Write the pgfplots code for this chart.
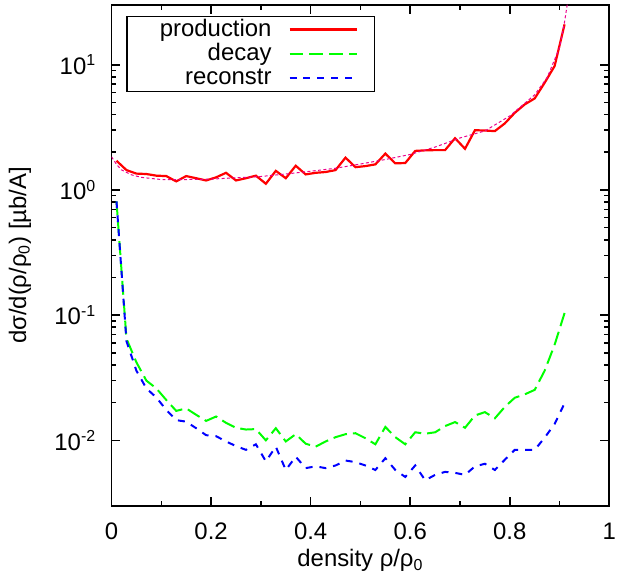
\documentclass[border=0pt]{standalone}
\usepackage{fontspec}
\setmainfont{Liberation Sans}
\usepackage{pgfplots}
\pgfplotsset{compat=1.18}
\usetikzlibrary{calc}
\begin{document}
\fontsize{12}{14}\selectfont
\begin{tikzpicture}
\begin{axis}[
  name=ax,
  scale only axis,
  width=250pt, height=251.5pt,
  xmin=0, xmax=1,
  ymode=log, ymin=0.003, ymax=30,
  axis line style={line width=0.9pt},
  every tick/.style={black, line width=0.8pt},
  major tick length=4.5pt, minor tick length=2.5pt,
  tick align=inside,
  xtick={0,0.2,0.4,0.6,0.8,1},
  xticklabels={0,0.2,0.4,0.6,0.8,1},
  minor xtick={0.1,0.3,0.5,0.7,0.9},
  ytick={0.01,0.1,1,10},
  yticklabels={10\textsuperscript{-2},10\textsuperscript{-1},10\textsuperscript{0},10\textsuperscript{1}},
  tick label style={font=\fontsize{12}{14}\selectfont},
  yticklabel style={xshift=-3.5pt},
  xticklabel style={anchor=base, yshift=-17pt},
  xlabel={density ρ/ρ\textsubscript{0}},
  ylabel={dσ/d(ρ/ρ\textsubscript{0}) [µb/A]},
  label style={font=\fontsize{12}{14}\selectfont},
  xlabel style={at={(axis description cs:0.5,-0.1213)}, anchor=base, inner sep=0pt},
  ylabel style={at={(axis description cs:-0.184,0.5)}, anchor=center, inner sep=0pt},
  legend style={at={(0.03,0.978)}, anchor=north west, draw=black, line width=0.6pt,
    font=\fontsize{12}{14}\selectfont, inner xsep=8pt, inner ysep=0.75pt,
    row sep=0.75pt, column sep=8.5pt,
    nodes={inner sep=0pt, text height=9pt, text depth=2.5pt}},
  legend cell align=right,
  legend plot pos=right,
  legend image code/.code={\draw[#1] (0pt,0pt) -- (34pt,0pt);},
]
\addplot[red, line width=1.1pt] coordinates {
(0.01,1.71)(0.03,1.44)(0.05,1.35)(0.07,1.34)(0.09,1.30)(0.11,1.29)(0.13,1.17)(0.15,1.29)
(0.17,1.24)(0.19,1.19)(0.21,1.26)(0.23,1.37)(0.25,1.19)(0.27,1.24)(0.29,1.30)(0.31,1.12)
(0.33,1.42)(0.35,1.24)(0.37,1.56)(0.39,1.33)(0.41,1.37)(0.43,1.39)(0.45,1.44)(0.47,1.81)
(0.49,1.52)(0.51,1.55)(0.53,1.60)(0.55,1.95)(0.57,1.63)(0.59,1.64)(0.61,2.05)(0.63,2.07)
(0.65,2.08)(0.67,2.08)(0.69,2.59)(0.71,2.13)(0.73,3.00)(0.75,2.98)(0.77,2.95)(0.79,3.40)
(0.81,4.13)(0.83,4.82)(0.85,5.38)(0.87,7.18)(0.89,9.76)(0.91,21.0)};
\addlegendentry{\hspace{8.5pt}production}
\addplot[green, line width=1pt, dash pattern=on 7pt off 3pt] coordinates {
(0.01,0.81)(0.03,0.065)(0.05,0.042)(0.07,0.030)(0.09,0.026)(0.11,0.021)(0.13,0.0172)(0.15,0.018)
(0.17,0.016)(0.19,0.0143)(0.21,0.0155)(0.23,0.0138)(0.25,0.0126)(0.27,0.0122)(0.29,0.0123)(0.31,0.0100)
(0.33,0.0125)(0.35,0.0098)(0.37,0.0112)(0.39,0.0094)(0.41,0.0089)(0.43,0.0098)(0.45,0.0106)(0.47,0.0112)
(0.49,0.0114)(0.51,0.0104)(0.53,0.0093)(0.55,0.0128)(0.57,0.0106)(0.59,0.0093)(0.61,0.0116)(0.63,0.0113)
(0.65,0.0116)(0.67,0.0130)(0.69,0.0140)(0.71,0.0126)(0.73,0.0158)(0.75,0.0168)(0.77,0.0150)(0.79,0.0185)
(0.81,0.0219)(0.83,0.0233)(0.85,0.0253)(0.87,0.036)(0.89,0.058)(0.91,0.104)};
\addlegendentry{decay}
\addplot[blue, line width=1pt, dash pattern=on 3.5pt off 3.5pt] coordinates {
(0.01,0.81)(0.03,0.062)(0.05,0.036)(0.07,0.026)(0.09,0.022)(0.11,0.0175)(0.13,0.0145)(0.15,0.0141)
(0.17,0.0125)(0.19,0.0110)(0.21,0.0108)(0.23,0.0098)(0.25,0.0090)(0.27,0.0084)(0.29,0.0093)(0.31,0.0068)
(0.33,0.0089)(0.35,0.0058)(0.37,0.0074)(0.39,0.0060)(0.41,0.0062)(0.43,0.0060)(0.45,0.0063)(0.47,0.0069)
(0.49,0.0067)(0.51,0.0063)(0.53,0.0058)(0.55,0.0072)(0.57,0.0058)(0.59,0.0051)(0.61,0.0063)(0.63,0.0048)
(0.65,0.0053)(0.67,0.0056)(0.69,0.0055)(0.71,0.0053)(0.73,0.0062)(0.75,0.0065)(0.77,0.0058)(0.79,0.0070)
(0.81,0.0084)(0.83,0.0084)(0.85,0.0084)(0.87,0.0105)(0.89,0.0135)(0.91,0.0198)};
\addlegendentry{reconstr}
\addplot[magenta, line width=0.5pt, dash pattern=on 1.5pt off 1.2pt, forget plot] coordinates {
(0.0,1.84)(0.01,1.60)(0.02,1.445)(0.04,1.32)(0.06,1.26)(0.10,1.21)(0.15,1.21)(0.20,1.22)
(0.25,1.25)(0.30,1.28)(0.35,1.34)(0.40,1.41)(0.45,1.49)(0.50,1.61)(0.55,1.75)(0.60,1.92)
(0.65,2.20)(0.70,2.60)(0.75,2.96)(0.80,3.9)(0.85,5.75)(0.875,7.9)(0.90,13.7)(0.91,22)(0.92,40)};
\end{axis}
\path ($(ax.south west)+(-56pt,-39pt)$) rectangle ($(ax.north east)+(6pt,2.5pt)$);
\end{tikzpicture}
\end{document}
